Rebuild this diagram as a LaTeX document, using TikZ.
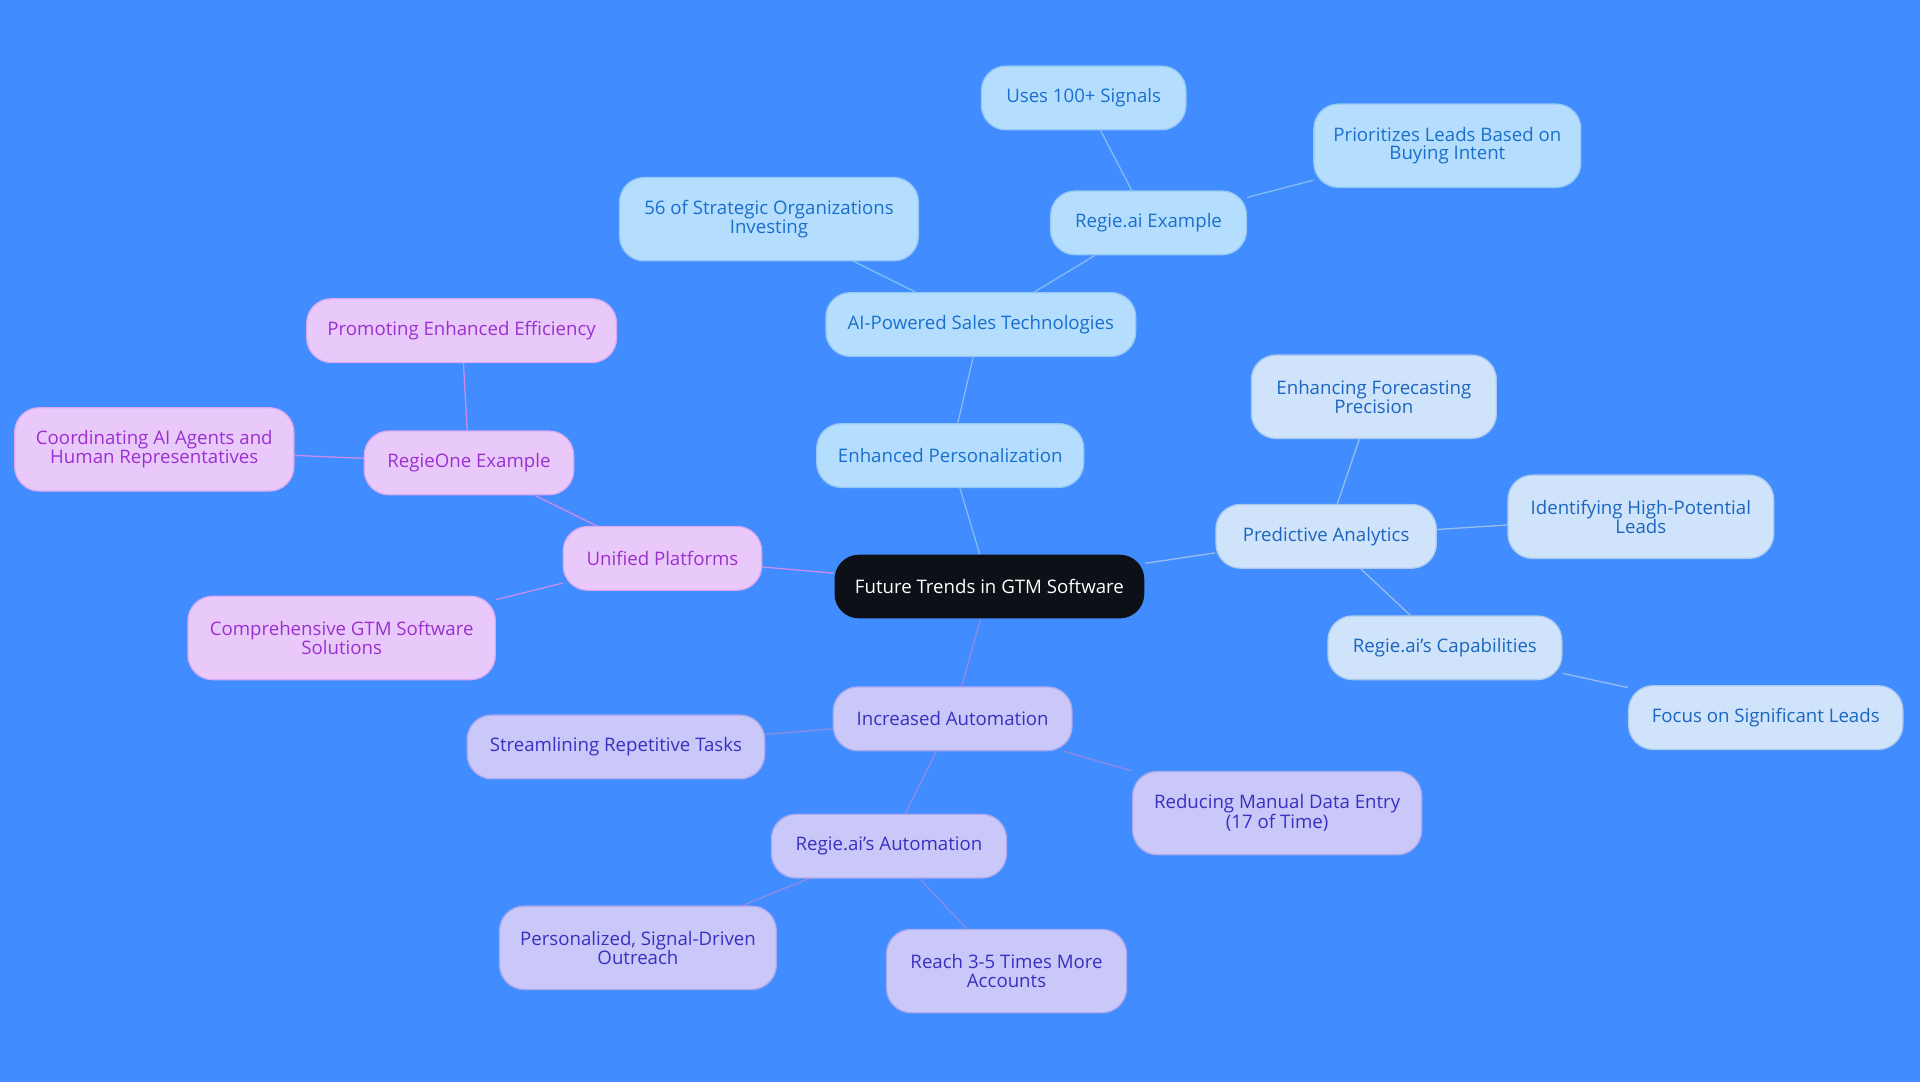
\documentclass[tikz,border=0pt]{standalone}
\usepackage{fontspec}
\setmainfont{Open Sans}
\definecolor{bgblue}{HTML}{418CFE}
\definecolor{rootfill}{HTML}{0D1117}
\definecolor{skyfill}{HTML}{B5DEFE}
\definecolor{skytext}{HTML}{1A6FCC}
\definecolor{palefill}{HTML}{CFE3FA}
\definecolor{paletext}{HTML}{1C66C0}
\definecolor{lilafill}{HTML}{C9C8F9}
\definecolor{lilatext}{HTML}{3A30C0}
\definecolor{pinkfill}{HTML}{E9C9FA}
\definecolor{pinktext}{HTML}{9B30D0}
\tikzset{
  topic/.style={rounded corners=0.6cm, minimum height=1.56cm, align=center, font=\fontsize{13}{13}\selectfont, inner xsep=0pt},
  sky/.style={topic, fill=skyfill, text=skytext, draw=skyfill!80!skytext},
  pale/.style={topic, fill=palefill, text=paletext, draw=palefill!80!paletext},
  lila/.style={topic, fill=lilafill, text=lilatext, draw=lilafill!80!lilatext},
  pink/.style={topic, fill=pinkfill, text=pinktext, draw=pinkfill!80!pinktext},
  tall/.style={minimum height=2.04cm},
}
\begin{document}
\begin{tikzpicture}[x=0.03cm, y=-0.03cm, line width=0.9pt]

\fill [bgblue] (0,0) rectangle (1568,884);
\useasboundingbox (0,0) rectangle (1568,884);

%% root
\node [topic, fill=rootfill, text=white, minimum width=253*0.03cm] (root) at (808,479) {Future Trends in GTM Software};

%% personalization branch
\node [sky, minimum width=218*0.03cm] (perso) at (776,372) {Enhanced Personalization};
\node [sky, minimum width=253*0.03cm] (aisales) at (801,265) {AI-Powered Sales Technologies};
\node [sky, tall, minimum width=244*0.03cm] (strategic) at (628,179) {56 of Strategic Organizations\\Investing};
\node [sky, minimum width=160*0.03cm] (regieex) at (938,182) {Regie.ai Example};
\node [sky, minimum width=167*0.03cm] (signals) at (885,80) {Uses 100+ Signals};
\node [sky, tall, minimum width=218*0.03cm] (intent) at (1182,119) {Prioritizes Leads Based on\\Buying Intent};

%% analytics branch
\node [pale, minimum width=180*0.03cm] (predict) at (1083,438) {Predictive Analytics};
\node [pale, tall, minimum width=200*0.03cm] (forecast) at (1122,324) {Enhancing Forecasting\\Precision};
\node [pale, tall, minimum width=217*0.03cm] (highpot) at (1340,422) {Identifying High-Potential\\Leads};
\node [pale, minimum width=191*0.03cm] (capab) at (1180,529) {Regie.ai's Capabilities};
\node [pale, minimum width=224*0.03cm] (focus) at (1442,586) {Focus on Significant Leads};

%% platforms branch
\node [pink, minimum width=162*0.03cm] (unified) at (541,456) {Unified Platforms};
\node [pink, minimum width=171*0.03cm] (regieone) at (383,378) {RegieOne Example};
\node [pink, minimum width=253*0.03cm] (effic) at (377,270) {Promoting Enhanced Efficiency};
\node [pink, tall, minimum width=228*0.03cm] (coord) at (126,367) {Coordinating AI Agents and\\Human Representatives};
\node [pink, tall, minimum width=251*0.03cm] (gtmsol) at (279,521) {Comprehensive GTM Software\\Solutions};

%% automation branch
\node [lila, minimum width=195*0.03cm] (autom) at (778,587) {Increased Automation};
\node [lila, minimum width=243*0.03cm] (repet) at (503,610) {Streamlining Repetitive Tasks};
\node [lila, tall, minimum width=236*0.03cm] (manual) at (1043,664) {Reducing Manual Data Entry\\(17 of Time)};
\node [lila, minimum width=192*0.03cm] (regieauto) at (726,691) {Regie.ai's Automation};
\node [lila, tall, minimum width=226*0.03cm] (outreach) at (521,774) {Personalized, Signal-Driven\\Outreach};
\node [lila, tall, minimum width=196*0.03cm] (accounts) at (822,793) {Reach 3-5 Times More\\Accounts};

%% connectors
\begin{scope}[on background layer/.style={}]
\end{scope}
\draw [skyfill!70!skytext] (root) -- (perso) (perso) -- (aisales) (aisales) -- (strategic)
  (aisales) -- (regieex) (regieex) -- (signals) (regieex) -- (intent);
\draw [palefill!70!paletext] (root) -- (predict) (predict) -- (forecast) (predict) -- (highpot)
  (predict) -- (capab) (capab) -- (focus);
\draw [pinkfill!60!pinktext] (root) -- (unified) (unified) -- (regieone) (regieone) -- (effic)
  (regieone) -- (coord) (unified) -- (gtmsol);
\draw [lilafill!60!lilatext] (root) -- (autom) (autom) -- (repet) (autom) -- (manual)
  (autom) -- (regieauto) (regieauto) -- (outreach) (regieauto) -- (accounts);

\end{tikzpicture}
\end{document}
